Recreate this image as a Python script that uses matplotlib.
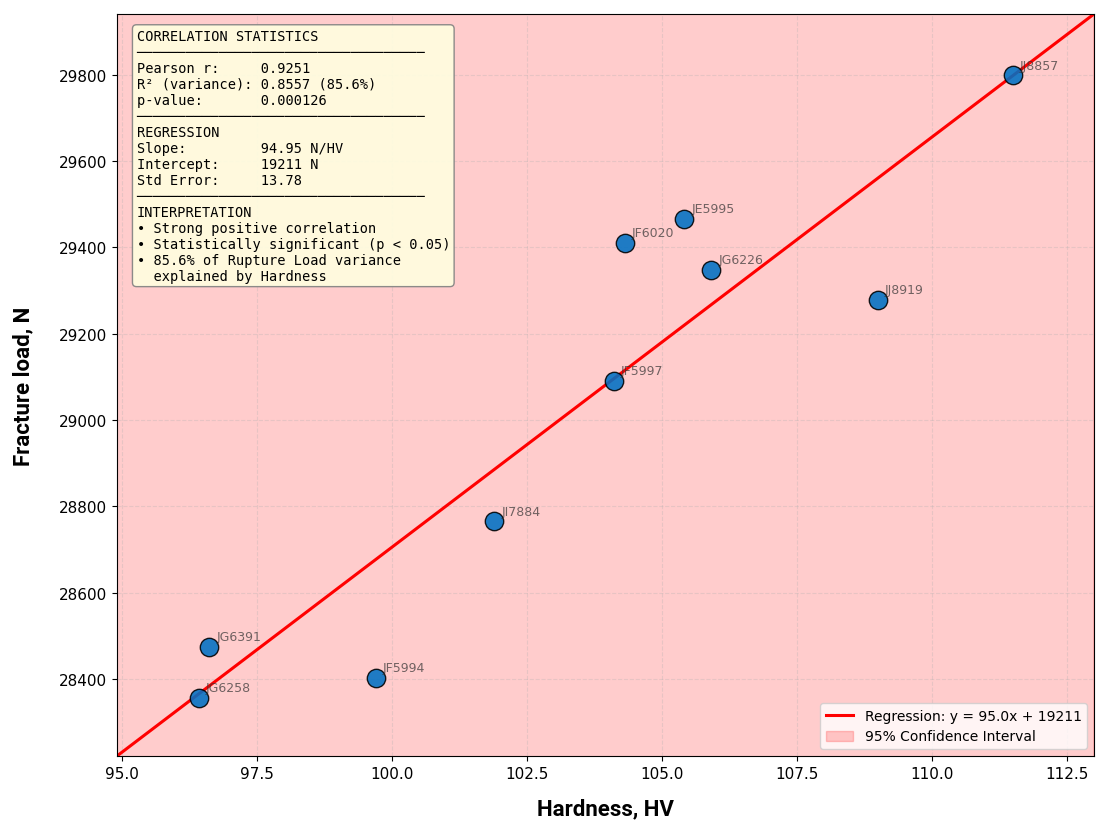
import matplotlib
matplotlib.use('Agg')
import matplotlib.pyplot as plt
import numpy as np

# sample data
samples = ['JG6258', 'JG6391', 'JF5994', 'JI7884', 'JF5997', 'JF6020', 'JE5995', 'JG6226', 'JJ8919', 'JJ8857']
hardness = [96.41, 96.61, 99.70, 101.89, 104.11, 104.31, 105.41, 105.91, 109.00, 111.50]
load = [28356, 28474, 28402, 28765, 29091, 29409, 29465, 29347, 29277, 29798]

slope = 94.95
intercept = 19211
ci_half = 2000  # band is wider than the plot window

stats_text = (
    "CORRELATION STATISTICS\n"
    + "─" * 35 + "\n"
    "Pearson r:     0.9251\n"
    "R² (variance): 0.8557 (85.6%)\n"
    "p-value:       0.000126\n"
    + "─" * 35 + "\n"
    "REGRESSION\n"
    "Slope:         94.95 N/HV\n"
    "Intercept:     19211 N\n"
    "Std Error:     13.78\n"
    + "─" * 35 + "\n"
    "INTERPRETATION\n"
    "• Strong positive correlation\n"
    "• Statistically significant (p < 0.05)\n"
    "• 85.6% of Rupture Load variance\n"
    "  explained by Hardness"
)

fig = plt.figure(figsize=(11.07, 8.37), dpi=100)
ax = fig.add_axes([117/1107, 1 - 757/837, (1094-117)/1107, (757-15)/837])

xmin, xmax = 94.9, 113.0
xs = np.linspace(xmin, xmax, 100)
ys = slope * xs + intercept

line, = ax.plot(xs, ys, color='red', lw=2.2, label='Regression: y = 95.0x + 19211', zorder=2)
band = ax.fill_between(xs, ys - ci_half, ys + ci_half, color='red', alpha=0.2,
                       label='95% Confidence Interval')
ax.scatter(hardness, load, s=175, color='#0070c4', edgecolor='black', lw=1,
           alpha=0.88, zorder=3)

for name, x, y in zip(samples, hardness, load):
    ax.annotate(name, (x, y), xytext=(5, 5), textcoords='offset points',
                fontsize=9, color='#333333', alpha=0.7)

ax.set_xlim(xmin, xmax)
ax.set_ylim(slope * xmin + intercept, slope * xmax + intercept)
ax.grid(True, ls='--', alpha=0.3)
ax.tick_params(labelsize=11)

ax.set_xlabel('Hardness, HV', fontsize=16, fontweight='bold', family='Roboto', labelpad=12)
ax.set_ylabel('Fracture load, N', fontsize=16, fontweight='bold', family='Roboto', labelpad=18)

ax.text(0.02, 0.98, stats_text, transform=ax.transAxes, va='top', ha='left',
        family='DejaVu Sans Mono', fontsize=9.8, linespacing=1.18,
        bbox=dict(boxstyle='round,pad=0.3', facecolor='lightyellow', edgecolor='gray', alpha=0.9))

ax.legend(handles=[line, band], loc='lower right', fontsize=10)

fig.savefig('out.png', dpi=100)
